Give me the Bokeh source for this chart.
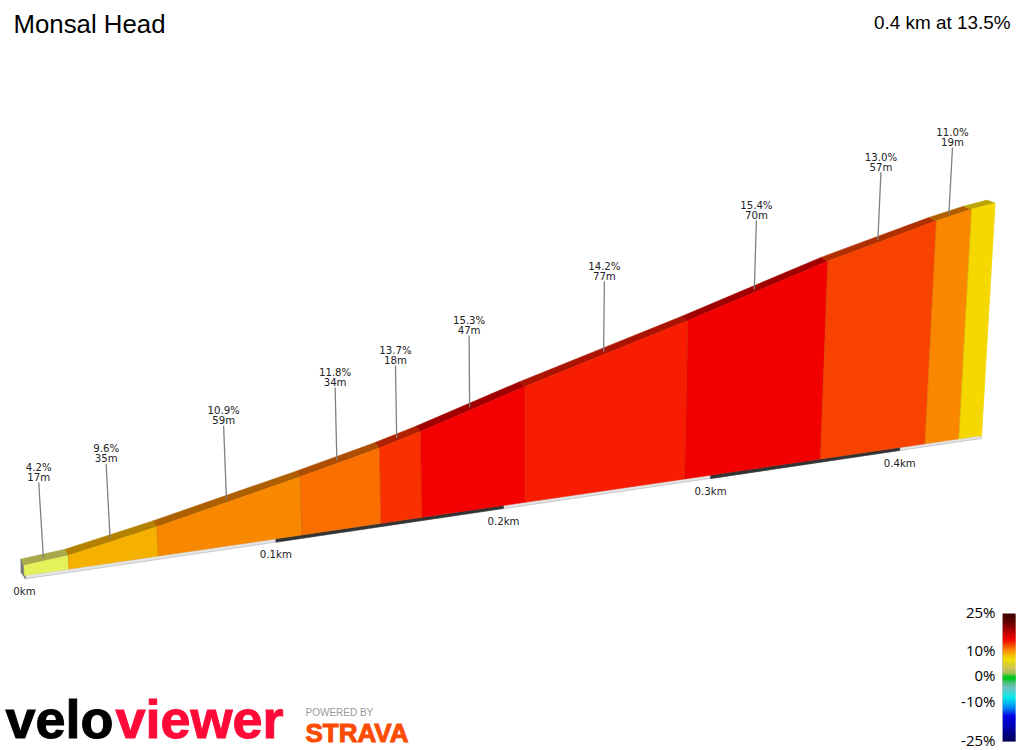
from bokeh.plotting import figure
from bokeh.embed import file_html
from bokeh.resources import INLINE
from bokeh.core.properties import value

title_text = "Monsal Head"
summary_text = "0.4 km at 13.5%"

seg_grade = [4.2, 9.6, 10.9, 11.8, 13.7, 15.3, 14.2, 15.4, 13.0, 11.0, 8.0]
seg_length = [17, 35, 59, 34, 18, 47, 77, 70, 57, 19, 13]
seg_labelled = [True] * 10 + [False]
seg_color = ["#E5F15B", "#F5B000", "#F78800", "#F96F00", "#FA3000", "#F40000",
             "#F81C00", "#F20000", "#F84300", "#FB8700", "#F5D800"]
seg_top = ["#A9A84A", "#B38000", "#AE6000", "#AD4E00", "#AF2200", "#A00000",
           "#AA1400", "#A00000", "#AE3000", "#B06000", "#BBA500"]

km_ticks = [0, 100, 200, 300, 400]
km_labels = ["0km", "0.1km", "0.2km", "0.3km", "0.4km"]
band_start = [100, 300]
band_end = [200, 400]

scale_values = [25, 10, 0, -10, -25]
scale_labels = ["25%", "10%", "0%", "-10%", "-25%"]
ramp_pct = [25, 22, 19, 17, 15, 13, 11, 9, 7, 5, 3, 1, 0, -1, -2, -4, -6, -8, -10, -12, -15, -18, -22, -25]
ramp_color = ["#400000", "#600000", "#A00000", "#D00000", "#F00000", "#F84000", "#FA8000", "#F5B500",
              "#F0E000", "#D8D030", "#C8C060", "#80C040", "#00C820", "#00C820", "#40C070", "#70C0C0",
              "#40D8D8", "#00E8E8", "#00B8F0", "#0080F8", "#0000E0", "#0000C0", "#000080", "#000050"]


# Perspective of the road: distance d (m) and height h (m) to page pixels
def base(d):
    x = 24 + 2.645 * d / (1 + 0.000522 * d)
    return x, 575 - (x - 24) * 0.1463


def front(d, e):
    x, y = base(d)
    h = (e + 2.04) * 4.9 / (1 + 0.000522 * d)
    return x + h * (x - 525) / 7800, y - h


def back(d, e):
    x, y = front(d, e)
    return x - 3 - 5 * d / 446, y - 6.5 + 3.5 * d / 446


def depth_mid(d, e):
    x, y = front(d, e)
    return x - (3 + 5 * d / 446) / 2, y - (6.5 - 3.5 * d / 446) / 2


dist = [0]
elev = [0.0]
for g, l in zip(seg_grade, seg_length):
    dist.append(dist[-1] + l)
    elev.append(elev[-1] + g * l / 100)
end_d = dist[-1]

p = figure(width=1024, height=750, x_range=(0, 1024), y_range=(750, 0),
           output_backend="svg", toolbar_location=None, min_border=0,
           x_axis_type=None, y_axis_type=None, outline_line_color=None)
p.grid.visible = False
FONT = value("Open Sans")
HELV = value("Liberation Sans")
LBL = value("DejaVu Sans")

# base strip
def strip(d0, d1):
    x0, y0 = base(d0)
    x1, y1 = base(d1)
    return [x0, x1, x1, x0], [y0, y1, y1 + 3, y0 + 3.5]


sx, sy = strip(0, end_d)
p.patch(sx, sy, fill_color="#E4E4E4", line_color="#B0B0B0", line_width=0.6)
for a, b in zip(band_start, band_end):
    sx, sy = strip(a, b)
    p.patch(sx, sy, fill_color="#333333", line_color="#333333", line_width=0.5)

# end faces
fx0, fy0 = front(0, 0)
bx0, by0 = back(0, 0)
gx0, gy0 = base(0)
p.patch([fx0, bx0, gx0 - 3.5, gx0 + 1], [fy0, by0, gy0 - 3, gy0 + 3],
        fill_color="#7A7A7A", line_color="#6A6A6A", line_width=0.6)
fx1, fy1 = front(end_d, elev[-1])
gx1, gy1 = base(end_d)
p.line([fx1, gx1], [fy1, gy1 + 1], line_color="#F2E468", line_width=1.2)

# road top and wall
for i in range(len(seg_grade)):
    d0, d1 = dist[i], dist[i + 1]
    e0, e1 = elev[i], elev[i + 1]
    a0 = front(d0, e0)
    a1 = front(d1, e1)
    c0 = back(d0, e0)
    c1 = back(d1, e1)
    g0 = base(d0)
    g1 = base(d1)
    p.patch([a0[0], a1[0], c1[0], c0[0]], [a0[1], a1[1], c1[1], c0[1]],
            fill_color=seg_top[i], line_color=seg_top[i], line_width=0.5)
    p.patch([a0[0], a1[0], g1[0], g0[0]], [a0[1], a1[1], g1[1], g0[1]],
            fill_color=seg_color[i], line_color=seg_color[i], line_width=0.5)
for i in range(1, len(seg_grade)):
    a = front(dist[i], elev[i])
    g = base(dist[i])
    p.line([a[0], g[0]], [a[1], g[1]], line_color="#A04000", line_alpha=0.25, line_width=1)

# leaders and labels
for i in range(len(seg_grade)):
    if not seg_labelled[i]:
        continue
    d = dist[i] + seg_length[i] / 2
    e = (elev[i] + elev[i + 1]) / 2
    x0, y0 = depth_mid(d, e)
    x0 -= 1.2
    y0 += 1
    pole = 76 / (1 + 0.00032 * d)
    x1 = x0 + pole * (x0 - 525) / 7800
    y1 = y0 - pole
    p.line([x0, x1], [y0, y1], line_color="#808080", line_width=1.3)
    p.text([x1], [y1 - 15], text=[f"{seg_grade[i]:.1f}%"], text_font=LBL, text_font_size="10.2px",
           text_align="center", text_baseline="middle", text_color="#222222")
    p.text([x1], [y1 - 5], text=[f"{seg_length[i]}m"], text_font=LBL, text_font_size="10.2px",
           text_align="center", text_baseline="middle", text_color="#222222")

for d, t in zip(km_ticks, km_labels):
    x, y = base(d)
    p.text([x], [y + 16], text=[t], text_font=LBL, text_font_size="10.2px",
           text_align="center", text_baseline="middle", text_color="#222222")

# titles
p.text([13], [23], text=[title_text], text_font=HELV, text_font_size="25.8px",
       text_align="left", text_baseline="middle", text_color="#000000")
p.text([1010], [22], text=[summary_text], text_font=HELV, text_font_size="18.9px",
       text_align="right", text_baseline="middle", text_color="#000000")

# colour scale
def scale_y(v):
    if v >= 10:
        return 651 - (v - 10) * (651 - 613) / 15
    if v >= 0:
        return 676 - v * 2.5
    if v >= -10:
        return 676 - v * 2.6
    return 702 + (-10 - v) * (741 - 702) / 15


for i in range(len(ramp_pct) - 1):
    steps = 6
    c0 = ramp_color[i]
    c1 = ramp_color[i + 1]
    for k in range(steps):
        t0 = k / steps
        t1 = (k + 1) / steps
        v0 = ramp_pct[i] + (ramp_pct[i + 1] - ramp_pct[i]) * t0
        v1 = ramp_pct[i] + (ramp_pct[i + 1] - ramp_pct[i]) * t1
        mix = [round(int(c0[j:j + 2], 16) * (1 - t0) + int(c1[j:j + 2], 16) * t0) for j in (1, 3, 5)]
        col = "#%02X%02X%02X" % tuple(mix)
        p.quad(left=1002, right=1015, top=scale_y(v0), bottom=min(scale_y(v1) + 1, 741),
               fill_color=col, line_color=None)
p.line([1002, 1002], [613, 741], line_color="#C0C0C0", line_width=0.6)
for v, t in zip(scale_values, scale_labels):
    p.text([995], [scale_y(v) - 2], text=[t], text_font=FONT, text_font_size="15px",
           text_align="right", text_baseline="middle", text_color="#000000")

# logos
p.text([5], [718.5], text=["velo"], text_font=HELV, text_font_size="54px",
       text_font_style="bold", text_color="#000000", text_outline_color="#000000", text_baseline="middle")
p.text([115], [718.5], text=["viewer"], text_font=HELV, text_font_size="54px",
       text_font_style="bold", text_color="#FF0A38", text_outline_color="#FF0A38", text_baseline="middle")
p.text([305], [712], text=["POWERED BY"], text_font=HELV, text_font_size="10px",
       text_color="#999999", text_baseline="middle")
p.text([305], [732], text=["STRAVA"], text_font=HELV, text_font_size="26px",
       text_font_style="bold", text_color="#FC4C02", text_outline_color="#FC4C02", text_baseline="middle")

open("out.html", "w").write(file_html(p, INLINE))
